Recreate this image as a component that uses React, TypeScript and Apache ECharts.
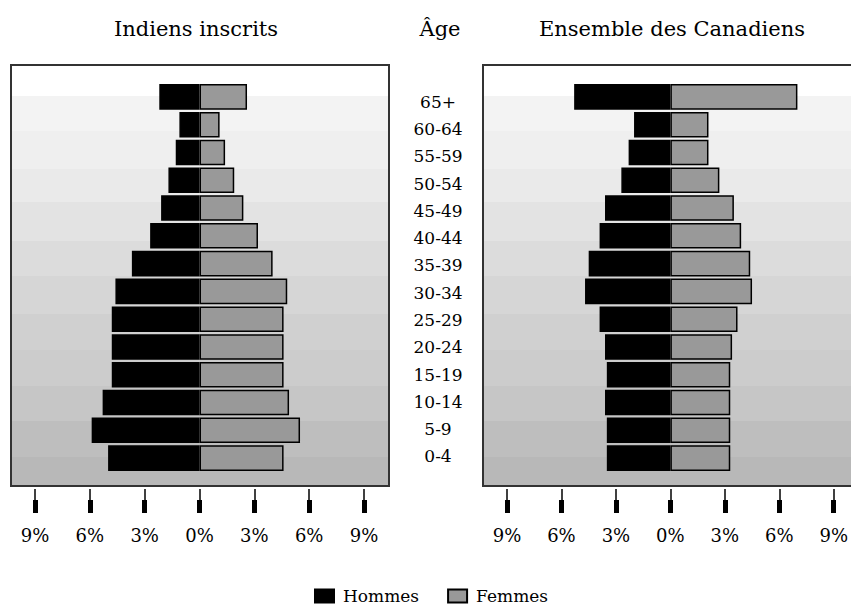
import React, { useEffect, useRef } from "react";
import * as echarts from "echarts";

const ages = ["65+", "60-64", "55-59", "50-54", "45-49", "40-44", "35-39", "30-34", "25-29", "20-24", "15-19", "10-14", "5-9", "0-4"];
const indianMen = [2.2, 1.1, 1.3, 1.7, 2.1, 2.7, 3.7, 4.6, 4.8, 4.8, 4.8, 5.3, 5.9, 5.0];
const indianWomen = [2.6, 1.1, 1.4, 1.9, 2.4, 3.2, 4.0, 4.8, 4.6, 4.6, 4.6, 4.9, 5.5, 4.6];
const canMen = [5.3, 2.0, 2.3, 2.7, 3.6, 3.9, 4.5, 4.7, 3.9, 3.6, 3.5, 3.6, 3.5, 3.5];
const canWomen = [7.0, 2.1, 2.1, 2.7, 3.5, 3.9, 4.4, 4.5, 3.7, 3.4, 3.3, 3.3, 3.3, 3.3];
const titles = ["Indiens inscrits", "Âge", "Ensemble des Canadiens"];
const legendNames = ["Hommes", "Femmes"];

const FONT = "'DejaVu Serif', serif";
const bands: [number, number, string][] = [
  [66, 96, "#ffffff"],
  [96, 131, "#f3f3f3"],
  [131, 169, "#efefef"],
  [169, 202, "#eaeaea"],
  [202, 241, "#e3e3e3"],
  [241, 276, "#dcdcdc"],
  [276, 314, "#d6d6d6"],
  [314, 350, "#d0d0d0"],
  [350, 386, "#cccccc"],
  [386, 421, "#c6c6c6"],
  [421, 457, "#bebebe"],
  [457, 485, "#b8b8b8"],
];

function panelGraphics(x0: number, x1: number) {
  const els: any[] = bands.map(([y0, y1, c]) => ({
    type: "rect",
    z: -10,
    silent: true,
    shape: { x: x0 + 1, y: y0, width: x1 - x0 - 2, height: y1 - y0 },
    style: { fill: c },
  }));
  els.push({
    type: "rect",
    z: 50,
    silent: true,
    shape: { x: x0, y: 65, width: x1 - x0, height: 421 },
    style: { fill: "none", stroke: "#333333", lineWidth: 2 },
  });
  return els;
}

function thinAxis(gridIndex: number, show: boolean) {
  return {
    type: "value",
    gridIndex,
    min: -9,
    max: 9,
    interval: 3,
    position: "bottom",
    offset: 17,
    axisLine: { show: false },
    splitLine: { show: false },
    axisTick: { show, length: 23, lineStyle: { color: "#000", width: 1.5 } },
    axisLabel: {
      show,
      margin: 37,
      fontFamily: FONT,
      fontSize: 18,
      color: "#000",
      formatter: (v: number) => Math.abs(v) + "%",
    },
  };
}
function thickAxis(gridIndex: number) {
  return {
    type: "value",
    gridIndex,
    min: -9,
    max: 9,
    interval: 3,
    position: "bottom",
    offset: 28,
    axisLine: { show: false },
    splitLine: { show: false },
    axisTick: { show: true, length: 13, lineStyle: { color: "#000", width: 5 } },
    axisLabel: { show: false },
  };
}

export default function App() {
  const ref = useRef<HTMLDivElement>(null);
  useEffect(() => {
    if (!ref.current) return;
    const chart = echarts.init(ref.current, null, { renderer: "svg" });
    const barCommon = { type: "bar", barGap: "-100%", barCategoryGap: "8%" };
    const maleStyle = { color: "#000", borderColor: "#000", borderWidth: 1.5 };
    const femaleStyle = { color: "#999999", borderColor: "#000", borderWidth: 1.5 };
    chart.setOption({
      animation: false,
      backgroundColor: "#ffffff",
      graphic: [
        ...panelGraphics(11, 389),
        ...panelGraphics(483, 862),
        {
          type: "text", x: 196, y: 29, silent: true,
          style: { text: titles[0], font: `21px ${FONT}`, fill: "#000", align: "center", verticalAlign: "middle" },
        },
        {
          type: "text", x: 440, y: 29, silent: true,
          style: { text: titles[1], font: `21px ${FONT}`, fill: "#000", align: "center", verticalAlign: "middle" },
        },
        {
          type: "text", x: 672, y: 29, silent: true,
          style: { text: titles[2], font: `21px ${FONT}`, fill: "#000", align: "center", verticalAlign: "middle" },
        },
      ],
      grid: [
        { left: 35, top: 83, width: 329, height: 389 },
        { left: 507, top: 83, width: 330, height: 389 },
        { left: 438, top: 88, width: 1, height: 382 },
      ],
      xAxis: [
        thinAxis(0, true),
        thickAxis(0),
        thinAxis(1, true),
        thickAxis(1),
        { type: "value", gridIndex: 2, show: false },
      ],
      yAxis: [
        { type: "category", gridIndex: 0, data: ages, inverse: true, show: false },
        { type: "category", gridIndex: 1, data: ages, inverse: true, show: false },
        {
          type: "category", gridIndex: 2, data: ages, inverse: true,
          axisLine: { show: false }, axisTick: { show: false },
          axisLabel: { margin: 0, align: "center", fontFamily: FONT, fontSize: 17, color: "#000" },
        },
      ],
      legend: {
        data: legendNames,
        left: 309,
        top: 582,
        itemWidth: 19,
        itemHeight: 13,
        itemGap: 28,
        icon: "rect",
        textStyle: { fontFamily: FONT, fontSize: 17, lineHeight: 18, color: "#000", padding: [0, 0, 0, 4] },
      },
      series: [
        { ...barCommon, name: legendNames[0], xAxisIndex: 0, yAxisIndex: 0, data: indianMen.map((v) => -v), itemStyle: maleStyle },
        { ...barCommon, name: legendNames[1], xAxisIndex: 0, yAxisIndex: 0, data: indianWomen, itemStyle: femaleStyle },
        { ...barCommon, name: legendNames[0], xAxisIndex: 2, yAxisIndex: 1, data: canMen.map((v) => -v), itemStyle: maleStyle },
        { ...barCommon, name: legendNames[1], xAxisIndex: 2, yAxisIndex: 1, data: canWomen, itemStyle: femaleStyle },
      ],
    });
    return () => chart.dispose();
  }, []);
  return <div ref={ref} style={{ position: "absolute", left: 0, top: 0, width: 851, height: 606 }} />;
}
